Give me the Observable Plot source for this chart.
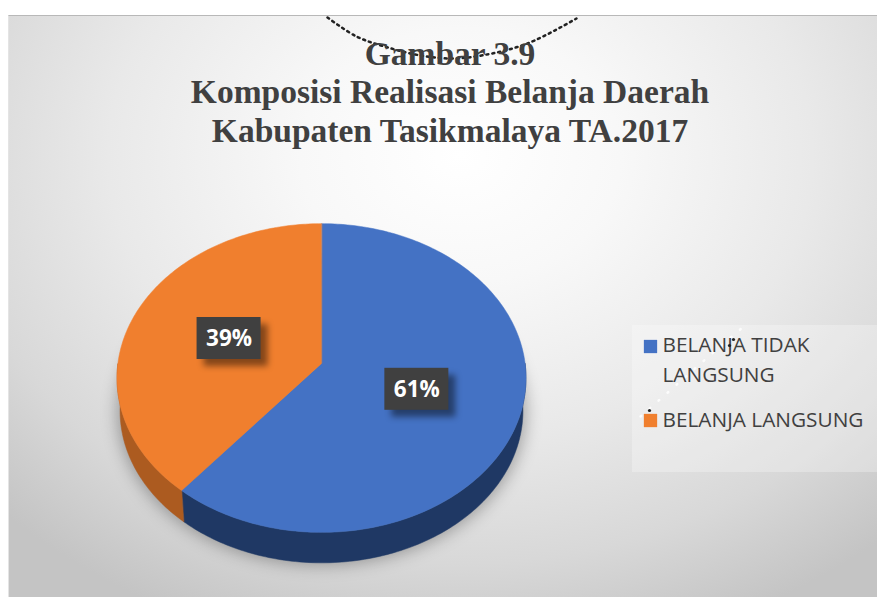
<!DOCTYPE html>
<html><head><meta charset="utf-8">
<script src="https://cdn.jsdelivr.net/npm/d3@7"></script>
<script src="https://cdn.jsdelivr.net/npm/@observablehq/plot@0.6"></script>
<style>
html,body{margin:0;padding:0;background:#fff;}
#root{position:relative;width:877px;height:597px;overflow:hidden;}
#panel{position:absolute;left:8px;top:15px;right:0;bottom:0;border-top:1.5px solid #b8b8b8;border-left:1.5px solid #e4e4e4;box-sizing:border-box;
background:radial-gradient(ellipse 640px 510px at 52% 24%,#ffffff 0%,#f8f8f8 25%,#e9e9e9 55%,#d8d8d8 80%,#c4c4c4 100%);}
#chart{position:absolute;left:0;top:0;}
</style></head><body>
<div id="root"><div id="panel"></div><div id="chart"></div></div>
<script>
const categories = ["BELANJA TIDAK LANGSUNG", "BELANJA LANGSUNG"];
const shares = [61, 39];
const topColors = ["#4472c4", "#f07f2e"];
const sideColors = ["#1f3864", "#ac5b20"];
const titleLines = ["Gambar 3.9", "Komposisi Realisasi Belanja Daerah", "Kabupaten Tasikmalaya TA.2017"];
const legendLines = ["BELANJA TIDAK", "LANGSUNG", "BELANJA LANGSUNG"];

// Pie tilted in perspective
const cx = 321, cy = 363, R = 203.6, Ry = 153, persp = 0.094, depth = 33, baseScale = 0.985;
const project = (deg, f = 1, dy = 0, scale = 1) => {
  const t = deg * Math.PI / 180, u = Math.sin(t) * f, v = -Math.cos(t) * f, s = 1 / (1 - persp * v);
  return {x: cx + R * scale * u * s, y: cy + Ry * scale * v * s + dy};
};
const arcPts = (a, b, dy = 0, scale = 1) => {
  const n = Math.max(2, Math.ceil(Math.abs(b - a))), out = [];
  for (let i = 0; i <= n; i++) out.push(project(a + (b - a) * i / n, 1, dy, scale));
  return out;
};
const total = d3.sum(shares);
let acc = 0;
const slices = shares.map((v, i) => {
  const a = acc / total * 360; acc += v; const b = acc / total * 360;
  return {i, v, a, b, mid: (a + b) / 2};
});
const tops = slices.flatMap(s => [{...project(0, 0)}, ...arcPts(s.a, s.b)].map(p => ({...p, k: s.i})));
const visibleSide = [[90, slices[0].b], [slices[0].b, 270]];
const sides = visibleSide.flatMap(([a, b], k) =>
  [...arcPts(a, b), ...arcPts(b, a, depth, baseScale)].map(p => ({...p, k})));
const shadow = arcPts(0, 360, depth, 1.0);
const labels = slices.map(s => ({...project(s.mid, 0.49), text: s.v + "%"}));
const box = d => ({x1: d.x - 32, x2: d.x + 32, y1: d.y - 21, y2: d.y + 21});

const legendRows = [
  {x: 662, y: 345, text: legendLines[0]},
  {x: 662, y: 375, text: legendLines[1]},
  {x: 662, y: 420, text: legendLines[2]}
];
const legendSwatches = [{x: 650, y: 346, k: 0}, {x: 650, y: 420, k: 1}];
const titleRows = titleLines.map((text, i) => ({text, x: 449.5, y: [54, 92, 131][i]}));
const curlX = [327, 356, 384, 420, 450, 481, 527, 576];
const curlY = [17, 36, 46, 55, 58, 55, 43, 18];
const curl = curlX.map((x, i) => ({x, y: curlY[i]}));
const strayX = [640, 665, 690, 715, 742];
const strayY = [416, 394, 372, 350, 327];
const stray = strayX.map((x, i) => ({x, y: strayY[i]}));
const specksX = [649, 729, 733];
const specksY = [410, 345, 339];
const specks = specksX.map((x, i) => ({x, y: specksY[i]}));

const poly = (data, fill, extra = {}) => Plot.line(data, {x: "x", y: "y", z: "k", fill, stroke: fill, strokeWidth: 0.5, curve: "linear-closed", ...extra});

const chart = Plot.plot({
  width: 877, height: 597, margin: 0,
  style: {background: "transparent"},
  x: {domain: [0, 877], axis: null},
  y: {domain: [597, 0], axis: null},
  marks: [
    Plot.rect([{x1: 632, x2: 877, y1: 325, y2: 472}], {x1: "x1", x2: "x2", y1: "y1", y2: "y2", fill: "#fff", fillOpacity: 0.28}),
    Plot.line(shadow, {x: "x", y: "y", fill: "#000", fillOpacity: 0.3, curve: "linear-closed", imageFilter: "blur(8px)"}),
    poly(sides, d => sideColors[d.k]),
    poly(tops, d => topColors[d.k]),
    Plot.rect(labels.map(box), {x1: d => d.x1 + 7, x2: d => d.x2 + 7, y1: d => d.y1 + 7, y2: d => d.y2 + 7, fill: "#000", fillOpacity: 0.45, imageFilter: "blur(3px)"}),
    Plot.rect(labels.map(box), {x1: "x1", x2: "x2", y1: "y1", y2: "y2", fill: "#404040"}),
    Plot.text(labels, {x: "x", y: "y", text: "text", fill: "#fff", fontSize: 22.5, fontWeight: 700, fontFamily: "Open Sans"}),
    Plot.line(stray, {x: "x", y: "y", stroke: "#fff", strokeWidth: 2.5, strokeDasharray: "1 11", strokeLinecap: "round", strokeOpacity: 0.8}),
    Plot.line(curl, {x: "x", y: "y", stroke: "#222", strokeWidth: 2.5, strokeDasharray: "2 4", curve: "catmull-rom"}),
    Plot.text(titleRows, {x: "x", y: "y", text: "text", fill: "#404040", fontSize: 33.5, fontWeight: 700, fontFamily: "Liberation Serif", textAnchor: "middle", style: {letterSpacing: "0.15px"}}),
    Plot.dot(legendSwatches, {x: "x", y: "y", symbol: "square", r: 7.5, fill: d => topColors[d.k]}),
    Plot.text(legendRows, {x: "x", y: "y", text: "text", fill: "#404040", fontSize: 20.8, fontFamily: "Open Sans", textAnchor: "start"}),
    Plot.dot(specks, {x: "x", y: "y", r: 1.6, fill: "#222"})
  ]
});
document.getElementById("chart").append(chart);
</script></body></html>
